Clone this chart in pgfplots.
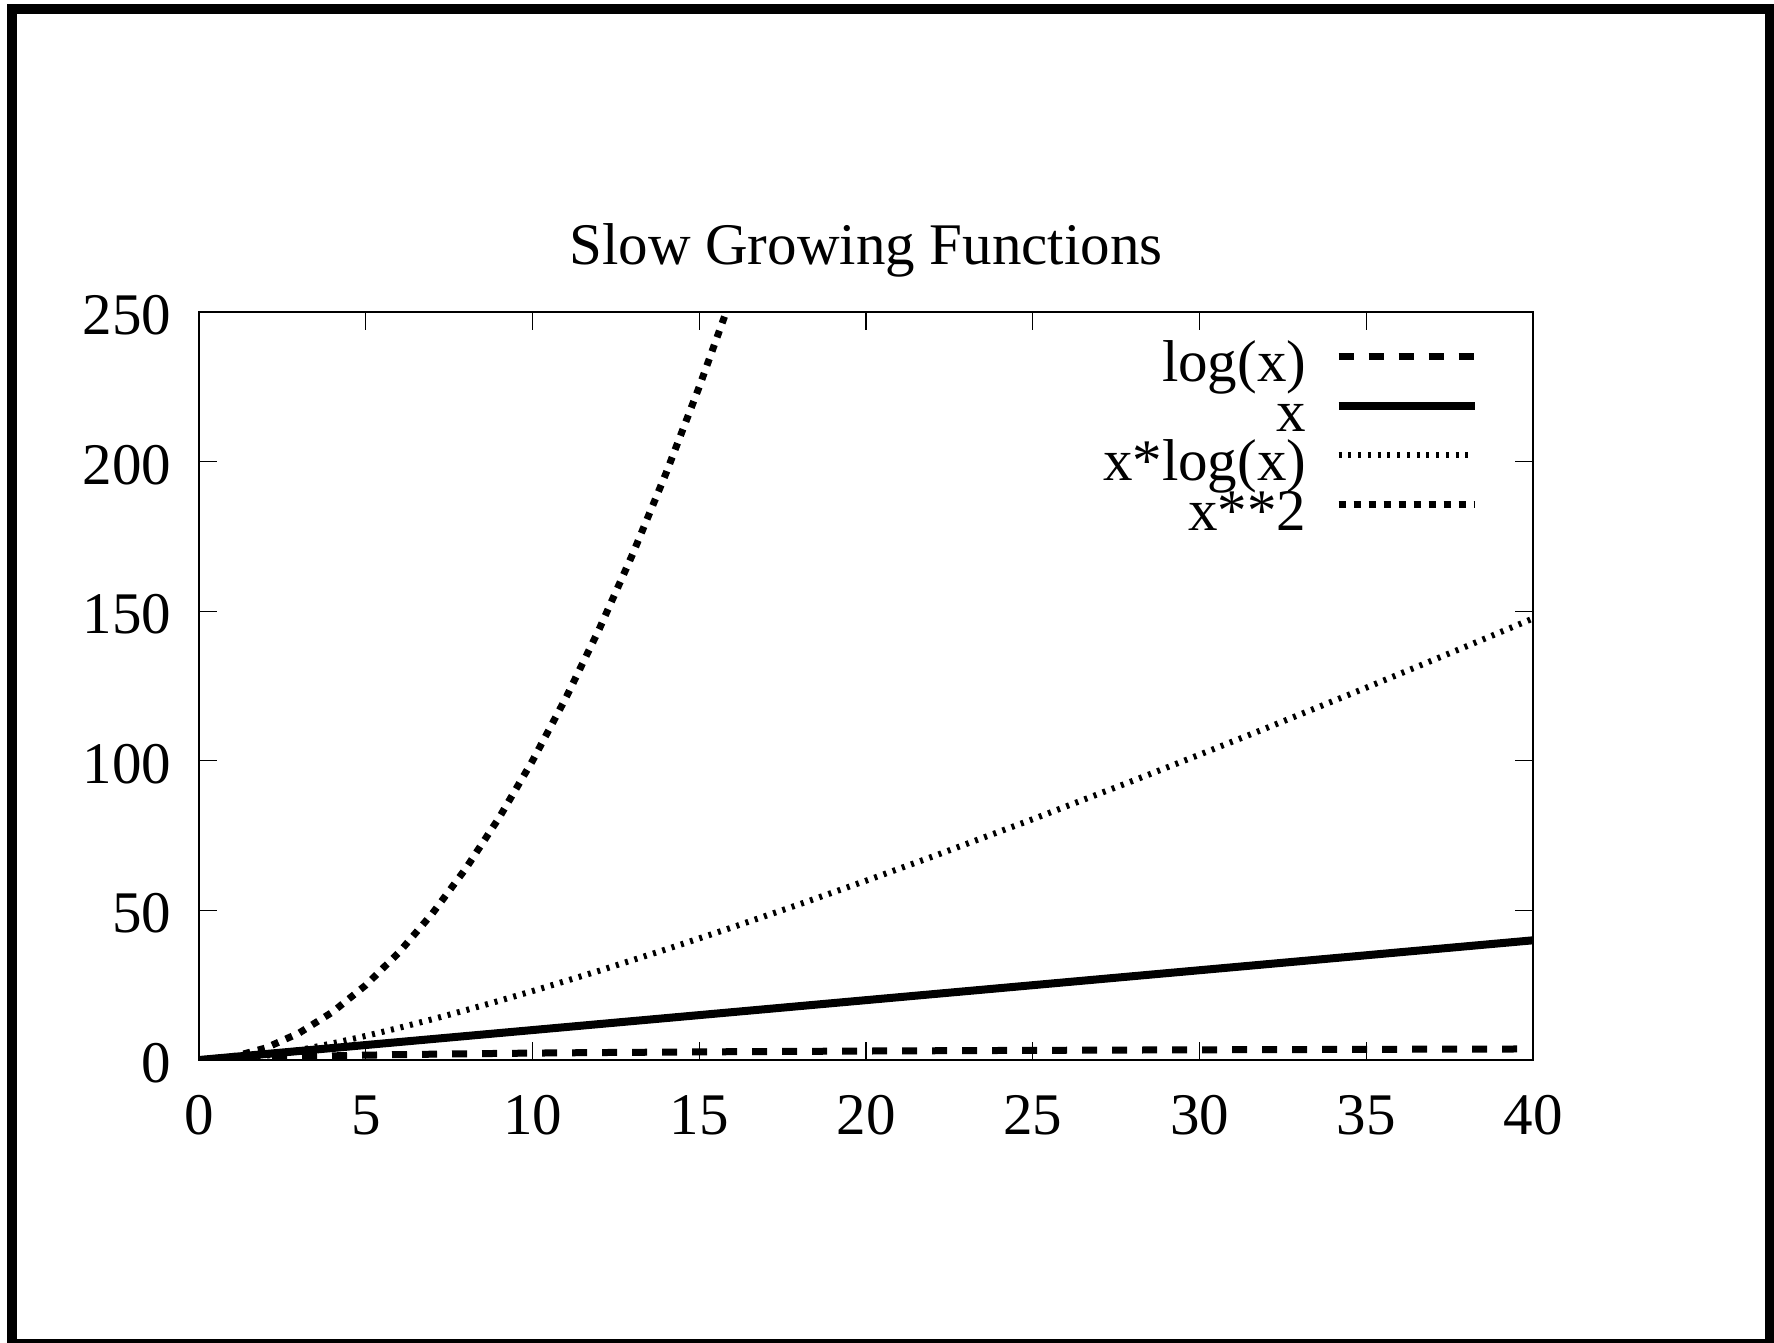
\documentclass[border=0pt]{standalone}
\usepackage{fontspec}
\setmainfont{Liberation Serif}
\usepackage{pgfplots}
\pgfplotsset{compat=1.18}

\newcommand{\gpfont}{\fontsize{23.6}{26}\selectfont}

\begin{document}
\begin{tikzpicture}

\begin{axis}[%
width=533.6pt,
height=299.2pt,
scale only axis,
xmin=0, xmax=40,
ymin=0, ymax=250,
xtick={0,5,...,40},
ytick={0,50,...,250},
tick align=inside,
major tick length=7.2pt,
axis line style={line width=0.7pt},
every tick/.style={black, line width=0.45pt},
/pgf/number format/assume math mode=true,
tick label style={font=\gpfont, inner sep=0pt},
xticklabel style={anchor=north, yshift=-14pt},
yticklabel style={anchor=east, xshift=-11pt, yshift=-1.3pt},
title={Slow Growing Functions},
title style={font=\gpfont, at={(0.5,1)}, anchor=base, yshift=12.8pt},
legend plot pos=right,
legend cell align=right,
legend style={at={(1,1)}, anchor=north east, xshift=-21.6pt, yshift=-2.75pt,
  draw=none, fill=none, inner sep=0pt, row sep=-9.7pt, column sep=11.3pt,
  font=\gpfont, nodes={inner sep=0pt, text height=25pt, text depth=4.5pt}},
legend image code/.code={\draw[#1] (0pt,0pt) -- (54.4pt,0pt);},
]

\addplot[black, line width=2.8pt, dash pattern=on 6pt off 6pt] coordinates {
(0.4,-0.916) (0.8,-0.223) (1,0) (1.5,0.405) (2,0.693) (3,1.099) (4,1.386)
(5,1.609) (6,1.792) (8,2.079) (10,2.303) (12,2.485) (15,2.708) (20,2.996)
(25,3.219) (30,3.401) (35,3.555) (40,3.689)
};
\addlegendentry{log(x)}

\addplot[black, line width=3.2pt] coordinates {
(0,0) (40,40)
};
\addlegendentry{x}

\addplot[black, line width=2.4pt, dash pattern=on 1.2pt off 2.7pt] coordinates {
(0,0) (0.4,-0.367) (0.8,-0.179) (1,0) (1.5,0.608) (2,1.386) (2.5,2.291)
(3,3.296) (4,5.545) (5,8.047) (6,10.751) (7,13.621) (8,16.636) (9,19.775)
(10,23.026) (12,29.819) (14,36.947) (16,44.361) (18,52.026) (20,59.915)
(22,68.003) (25,80.472) (28,93.301) (30,102.036) (32,110.904) (35,124.437)
(38,138.231) (40,147.555)
};
\addlegendentry{x*log(x)}

\addplot[black, line width=2.8pt, dash pattern=on 2.8pt off 3.2pt] coordinates {
(0,0) (1,1) (2,4) (3,9) (4,16) (5,25) (6,36) (7,49) (8,64) (9,81)
(10,100) (11,121) (12,144) (13,169) (14,196) (15,225) (16,256)
};
\addlegendentry{x**2}

\end{axis}

\draw[line width=4pt] (-74.8pt,-113.6pt) rectangle (628.2pt,420.4pt);
\pgfresetboundingbox
\useasboundingbox (-79.6pt,-113.2pt) rectangle (630pt,424pt);

\end{tikzpicture}
\end{document}
